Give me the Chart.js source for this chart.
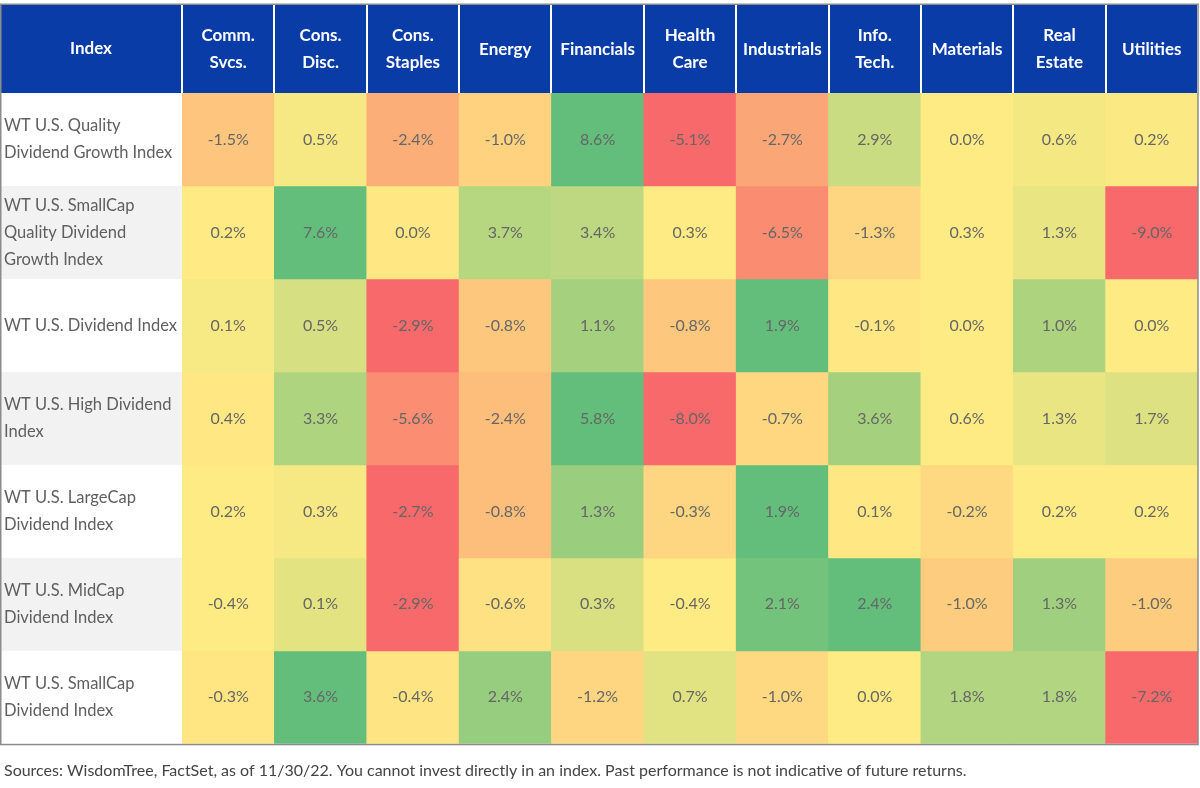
<!DOCTYPE html>
<html>
<head>
<meta charset="utf-8">
<script src="https://cdn.jsdelivr.net/npm/chart.js@4/dist/chart.umd.min.js"></script>
<style>
  html, body { margin: 0; padding: 0; background: #fff; }
  canvas { display: block; }
</style>
</head>
<body>
<canvas id="heat" width="1200" height="788"></canvas>
<script>
// sector columns (header labels)
const sectors = [
  ['Comm.', 'Svcs.'], ['Cons.', 'Disc.'], ['Cons.', 'Staples'], 'Energy', 'Financials',
  ['Health', 'Care'], 'Industrials', ['Info.', 'Tech.'], 'Materials', ['Real', 'Estate'], 'Utilities'
];

// index rows
const indexNames = [
  ['WT U.S. Quality', 'Dividend Growth Index'],
  ['WT U.S. SmallCap', 'Quality Dividend', 'Growth Index'],
  'WT U.S. Dividend Index',
  ['WT U.S. High Dividend', 'Index'],
  ['WT U.S. LargeCap', 'Dividend Index'],
  ['WT U.S. MidCap', 'Dividend Index'],
  ['WT U.S. SmallCap', 'Dividend Index']
];

// returns in %, one array per index, same order as sectors
const qualityDivGrowth   = [-1.5, 0.5, -2.4, -1.0, 8.6, -5.1, -2.7, 2.9, 0.0, 0.6, 0.2];
const smallQualDivGrowth = [0.2, 7.6, 0.0, 3.7, 3.4, 0.3, -6.5, -1.3, 0.3, 1.3, -9.0];
const dividend           = [0.1, 0.5, -2.9, -0.8, 1.1, -0.8, 1.9, -0.1, 0.0, 1.0, 0.0];
const highDividend       = [0.4, 3.3, -5.6, -2.4, 5.8, -8.0, -0.7, 3.6, 0.6, 1.3, 1.7];
const largeCapDividend   = [0.2, 0.3, -2.7, -0.8, 1.3, -0.3, 1.9, 0.1, -0.2, 0.2, 0.2];
const midCapDividend     = [-0.4, 0.1, -2.9, -0.6, 0.3, -0.4, 2.1, 2.4, -1.0, 1.3, -1.0];
const smallCapDividend   = [-0.3, 3.6, -0.4, 2.4, -1.2, 0.7, -1.0, 0.0, 1.8, 1.8, -7.2];

const rows = [qualityDivGrowth, smallQualDivGrowth, dividend, highDividend,
  largeCapDividend, midCapDividend, smallCapDividend];

const footer = 'Sources: WisdomTree, FactSet, as of 11/30/22. You cannot invest directly in an index. Past performance is not indicative of future returns.';

const BLUE = '#0a3ca8';
const RED = [248, 105, 107], YEL = [255, 235, 132], GRN = [99, 190, 123];

// excel style 3 colour scale, min / 50th percentile / max, per row
const mix = (a, b, t) => 'rgb(' + a.map((c, k) => Math.round(c + (b[k] - c) * t)).join(',') + ')';
const cellColor = (v, row) => {
  const s = [...row].sort((a, b) => a - b);
  const lo = s[0], hi = s[s.length - 1], mid = s[Math.floor(s.length / 2)];
  if (v <= mid) return mix(RED, YEL, mid === lo ? 1 : (v - lo) / (mid - lo));
  return mix(YEL, GRN, (v - mid) / (hi - mid));
};

const tablePlugin = {
  id: 'tableDeco',
  beforeDraw(chart) {
    const { ctx, chartArea, scales } = chart;
    const y = scales.y;
    const headTop = scales.x.top;
    ctx.save();
    // header band
    ctx.fillStyle = BLUE;
    ctx.fillRect(0, headTop, chartArea.right, chartArea.top - headTop);
    // row name backgrounds
    rows.forEach((r, i) => {
      ctx.fillStyle = i % 2 ? '#f2f2f2' : '#ffffff';
      const y0 = y.getPixelForValue(i), y1 = y.getPixelForValue(i + 1);
      ctx.fillRect(0, y0, chartArea.left, y1 - y0);
    });
    ctx.fillStyle = '#fff';
    ctx.font = 'bold 17px Lato';
    ctx.textAlign = 'center';
    ctx.textBaseline = 'middle';
    ctx.fillText('Index', chartArea.left / 2, (headTop + chartArea.top) / 2);
    ctx.restore();
  },
  afterDatasetsDraw(chart) {
    const { ctx } = chart;
    ctx.save();
    ctx.fillStyle = '#666';
    ctx.font = '16px Lato';
    ctx.textAlign = 'center';
    ctx.textBaseline = 'middle';
    chart.data.datasets.forEach((ds, i) => {
      chart.getDatasetMeta(i).data.forEach((bar, j) => {
        const p = bar.getCenterPoint();
        ctx.fillText(rows[i][j].toFixed(1) + '%', p.x, p.y);
      });
    });
    ctx.restore();
  },
  afterDraw(chart) {
    const { ctx, chartArea, scales } = chart;
    ctx.save();
    ctx.strokeStyle = '#8c8c8c';
    ctx.lineWidth = 1.5;
    ctx.strokeRect(0.75, scales.x.top - 0.75, chartArea.right - 0.75, chartArea.bottom - scales.x.top + 1.5);
    ctx.restore();
  }
};

new Chart(document.getElementById('heat'), {
  type: 'bar',
  data: {
    labels: sectors,
    datasets: rows.map((r, i) => ({
      data: r.map(() => [i, i + 1]),
      backgroundColor: r.map(v => cellColor(v, r)),
      borderWidth: 0,
      barPercentage: 1,
      categoryPercentage: 1,
      grouped: false
    }))
  },
  options: {
    responsive: false,
    animation: false,
    layout: { padding: { left: 4, right: 2, top: 5, bottom: 0 } },
    plugins: {
      legend: { display: false },
      tooltip: { enabled: false },
      title: {
        display: true,
        position: 'bottom',
        align: 'start',
        text: footer,
        color: '#444',
        font: { family: 'Lato', size: 16, weight: 'normal' },
        padding: { top: 17, bottom: 8 }
      }
    },
    scales: {
      x: {
        position: 'top',
        grid: { drawOnChartArea: false, color: '#fff', lineWidth: 2, tickLength: 88 },
        border: { display: false },
        ticks: {
          color: '#fff',
          font: { family: 'Lato', size: 17, weight: 'bold', lineHeight: 1.6 },
          padding: -58,
          crossAlign: 'center',
          maxRotation: 0,
          autoSkip: false
        },
        afterFit(s) { s.height = 88; }
      },
      y: {
        min: 0,
        max: 7,
        reverse: true,
        grid: { display: false },
        border: { display: false },
        afterBuildTicks(s) { s.ticks = indexNames.map((n, i) => ({ value: i + 0.5 })); },
        ticks: {
          autoSkip: false,
          crossAlign: 'far',
          color: '#5f5f5f',
          font: { family: 'Lato', size: 16.5, lineHeight: 1.62 },
          callback: (v, i) => indexNames[i]
        },
        afterFit(s) { s.width = 178; }
      }
    }
  },
  plugins: [tablePlugin]
});
</script>
</body>
</html>
